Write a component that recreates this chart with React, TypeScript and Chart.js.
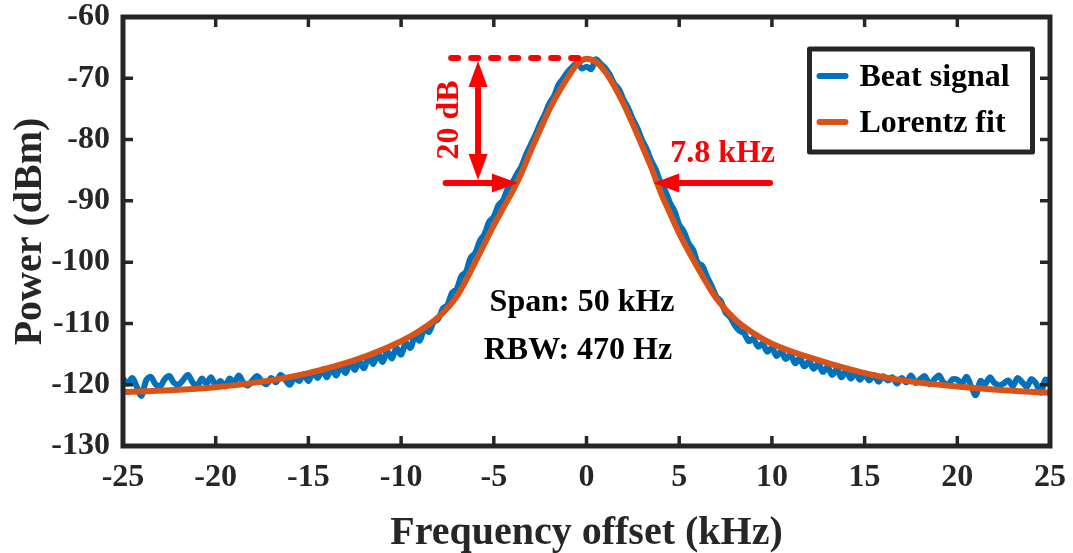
import React, { useEffect, useRef } from "react";
import { Chart, registerables } from "chart.js";

Chart.register(...registerables);

// ---------- data ----------
const FREQ_START = -25; // kHz, first sample of the beat-signal trace
const FREQ_STEP = 0.25; // kHz, sample spacing of the beat-signal trace

const BEAT_SIGNAL = [
  -119.0, -119.8, -118.9, -120.4, -121.8, -119.3, -118.7, -119.9, -120.3, -119.1, // -25.00
  -118.6, -119.7, -120.0, -119.2, -118.4, -119.6, -120.2, -119.0, -119.8, -118.8, // -22.50
  -120.1, -119.4, -120.3, -119.0, -119.6, -118.5, -119.7, -120.1, -119.2, -118.6, // -20.00
  -119.5, -119.9, -118.9, -119.6, -118.4, -119.2, -120.0, -118.8, -119.4, -118.3, // -17.50
  -119.4, -117.9, -118.9, -117.5, -118.8, -117.2, -118.5, -116.8, -118.1, -116.4, // -15.00
  -117.6, -116.2, -117.3, -115.4, -116.6, -114.9, -116.3, -114.6, -115.7, -114.0, // -12.50
  -115.1, -113.2, -114.0, -112.1, -112.8, -110.9, -111.4, -109.8, -109.3, -107.6, // -10.00
  -107.0, -105.0, -104.4, -102.3, -101.6, -99.3, -98.5, -96.5, -95.4, -93.4, //  -7.50
  -92.6, -90.7, -89.9, -88.0, -87.0, -85.6, -84.3, -82.4, -80.8, -79.2, //  -5.00
  -77.4, -75.9, -74.1, -72.9, -71.0, -70.0, -68.9, -68.1, -67.5, -68.4, //  -2.50
  -68.1, -68.5, -66.9, -67.6, -68.3, -69.4, -70.9, -71.8, -73.5, -74.9, //   0.00
  -76.7, -78.2, -80.1, -81.6, -83.5, -85.0, -87.1, -88.4, -90.3, -91.7, //   2.50
  -93.9, -95.0, -96.9, -98.0, -100.1, -100.6, -102.4, -103.9, -105.6, -106.4, //   5.00
  -108.2, -109.0, -110.3, -111.2, -111.6, -112.9, -112.5, -113.8, -113.3, -114.6, //   7.50
  -114.0, -115.3, -114.6, -115.8, -115.1, -116.5, -115.7, -117.0, -116.2, -117.4, //  10.00
  -116.6, -117.9, -117.1, -118.4, -117.5, -118.8, -117.7, -119.0, -118.0, -119.2, //  12.50
  -118.2, -119.3, -118.4, -119.5, -118.6, -119.3, -118.8, -119.8, -118.9, -119.6, //  15.00
  -118.5, -119.7, -119.1, -118.6, -119.9, -119.2, -118.5, -119.6, -120.0, -119.1, //  17.50
  -119.2, -119.8, -118.7, -120.3, -121.7, -119.4, -119.9, -118.8, -119.7, -120.1, //  20.00
  -119.8, -119.3, -120.2, -118.9, -119.6, -120.3, -119.1, -119.8, -121.3, -119.2, //  22.50
  -119.6, //  25.00
];

const FIT_FREQ = [
  -25, -22.5, -20, -17.5, -15, -12.5, -10, -9, -8, -7, -6, -5, -4.5, -4, -3.5, -3,
  -2.5, -2, -1.5, -1, -0.5, 0, 0.5, 1, 1.5, 2, 2.5, 3, 3.5, 4, 4.5, 5, 6, 7, 8, 9,
  10, 12.5, 15, 17.5, 20, 22.5, 25,
];
const FIT_POWER = [
  -121.2, -120.9, -120.4, -119.5, -118.1, -116.0, -112.9, -111.2, -109.0, -105.6,
  -100.0, -94.0, -91.2, -88.5, -85.4, -81.8, -78.4, -75.1, -72.3, -69.8, -67.7,
  -66.8, -67.3, -68.9, -71.3, -74.2, -77.5, -81.0, -84.6, -88.6, -92.0, -95.3,
  -100.9, -105.9, -109.3, -111.6, -113.3, -116.0, -118.1, -119.5, -120.3, -120.9,
  -121.3,
];

const SERIES_LABELS = ["Beat signal", "Lorentz fit"];
const SERIES_COLORS = ["#0072BD", "#D95319"];

const X_TICKS = [-25, -20, -15, -10, -5, 0, 5, 10, 15, 20, 25];
const Y_TICKS = [-130, -120, -110, -100, -90, -80, -70, -60];

const X_TITLE = "Frequency offset (kHz)";
const Y_TITLE = "Power (dBm)";

// annotation values (data units)
const PEAK_LEVEL = -66.7;
const DROP_LEVEL = -87.1;
const PEAK_LINE_FROM = -7.3;
const PEAK_LINE_TO = -0.25;
const DROP_ARROW_X = -5.85;
const LEFT_ARROW = [-7.6, -3.7];
const RIGHT_ARROW = [9.9, 3.6];
const DROP_LABEL = { text: "20 dB", x: -7.36, y: -76.8 };
const WIDTH_LABEL = { text: "7.8 kHz", x: 7.34, y: -82.3 };
const INFO_LINES = [
  { text: "Span: 50 kHz", x: -0.24, y: -106.6 },
  { text: "RBW: 470 Hz", x: -0.46, y: -114.4 },
];

const FONT = "'Liberation Serif', 'Times New Roman', serif";
const AXIS_COLOR = "#262626";
const RED = "#FF0000";

function drawArrow(
  ctx: CanvasRenderingContext2D,
  x1: number,
  y1: number,
  x2: number,
  y2: number,
  doubleHead: boolean
) {
  const headLen = 26;
  const headHalf = 9.5;
  const ang = Math.atan2(y2 - y1, x2 - x1);
  const c = Math.cos(ang);
  const s = Math.sin(ang);
  const bx2 = x2 - headLen * c;
  const by2 = y2 - headLen * s;
  const bx1 = doubleHead ? x1 + headLen * c : x1;
  const by1 = doubleHead ? y1 + headLen * s : y1;
  ctx.beginPath();
  ctx.moveTo(bx1, by1);
  ctx.lineTo(bx2 + 2 * c, by2 + 2 * s);
  ctx.lineWidth = 6;
  ctx.lineCap = doubleHead ? "butt" : "round";
  ctx.stroke();
  const head = (tx: number, ty: number, bx: number, by: number) => {
    ctx.beginPath();
    ctx.moveTo(tx, ty);
    ctx.lineTo(bx - headHalf * s, by + headHalf * c);
    ctx.lineTo(bx + headHalf * s, by - headHalf * c);
    ctx.closePath();
    ctx.fill();
  };
  head(x2, y2, bx2, by2);
  if (doubleHead) head(x1, y1, bx1, by1);
}

const overlayPlugin = {
  id: "overlay",
  afterDatasetsDraw(chart: any) {
    const ctx: CanvasRenderingContext2D = chart.ctx;
    const { left, right, top, bottom } = chart.chartArea;
    const xs = chart.scales.x;
    const ys = chart.scales.y;
    const px = (v: number) => xs.getPixelForValue(v);
    const py = (v: number) => ys.getPixelForValue(v);

    ctx.save();
    // ---- annotations ----
    ctx.strokeStyle = RED;
    ctx.fillStyle = RED;
    // dotted peak line
    ctx.beginPath();
    ctx.setLineDash([7, 13]);
    ctx.lineWidth = 6;
    ctx.lineCap = "round";
    ctx.moveTo(px(PEAK_LINE_FROM), py(PEAK_LEVEL));
    ctx.lineTo(px(PEAK_LINE_TO), py(PEAK_LEVEL));
    ctx.stroke();
    ctx.setLineDash([]);
    // vertical double arrow
    drawArrow(ctx, px(DROP_ARROW_X), py(PEAK_LEVEL) + 3, px(DROP_ARROW_X), py(DROP_LEVEL) - 3, true);
    // horizontal arrows
    drawArrow(ctx, px(LEFT_ARROW[0]), py(DROP_LEVEL), px(LEFT_ARROW[1]), py(DROP_LEVEL), false);
    drawArrow(ctx, px(RIGHT_ARROW[0]), py(DROP_LEVEL), px(RIGHT_ARROW[1]), py(DROP_LEVEL), false);

    ctx.font = `bold 32px ${FONT}`;
    ctx.textAlign = "center";
    ctx.textBaseline = "middle";
    ctx.save();
    ctx.translate(px(DROP_LABEL.x), py(DROP_LABEL.y));
    ctx.rotate(-Math.PI / 2);
    ctx.fillText(DROP_LABEL.text, 0, 0);
    ctx.restore();
    ctx.fillText(WIDTH_LABEL.text, px(WIDTH_LABEL.x), py(WIDTH_LABEL.y));

    ctx.fillStyle = "#000000";
    for (const t of INFO_LINES) ctx.fillText(t.text, px(t.x), py(t.y));

    // ---- axes box and inner ticks ----
    ctx.strokeStyle = AXIS_COLOR;
    ctx.lineCap = "butt";
    ctx.lineWidth = 3.5;
    const tl = 10;
    ctx.beginPath();
    for (const v of X_TICKS) {
      const x = px(v);
      ctx.moveTo(x, bottom);
      ctx.lineTo(x, bottom - tl);
      ctx.moveTo(x, top);
      ctx.lineTo(x, top + tl);
    }
    for (const v of Y_TICKS) {
      const y = py(v);
      ctx.moveTo(left, y);
      ctx.lineTo(left + tl, y);
      ctx.moveTo(right, y);
      ctx.lineTo(right - tl, y);
    }
    ctx.stroke();
    ctx.lineWidth = 5;
    ctx.lineJoin = "miter";
    ctx.strokeRect(left, top, right - left, bottom - top);

    // ---- legend ----
    const lx0 = right - 240.5;
    const lx1 = right - 17.5;
    const ly0 = top + 32;
    const ly1 = top + 135;
    ctx.fillStyle = "#ffffff";
    ctx.fillRect(lx0, ly0, lx1 - lx0, ly1 - ly0);
    ctx.lineWidth = 5;
    ctx.lineJoin = "round";
    ctx.strokeRect(lx0, ly0, lx1 - lx0, ly1 - ly0);
    const rows = [ly0 + 27, ly0 + 73];
    ctx.font = `bold 32px ${FONT}`;
    ctx.textAlign = "left";
    ctx.textBaseline = "middle";
    SERIES_LABELS.forEach((label, i) => {
      ctx.strokeStyle = SERIES_COLORS[i];
      ctx.lineWidth = 6;
      ctx.lineCap = "round";
      ctx.beginPath();
      ctx.moveTo(lx0 + 10, rows[i]);
      ctx.lineTo(lx0 + 36, rows[i]);
      ctx.stroke();
      ctx.fillStyle = "#000000";
      ctx.fillText(label, lx0 + 50, rows[i] + 2);
    });
    ctx.restore();
  },
};

export default function App() {
  const canvasRef = useRef<HTMLCanvasElement | null>(null);

  useEffect(() => {
    const canvas = canvasRef.current;
    if (!canvas) return;
    const beatPoints = BEAT_SIGNAL.map((y, i) => ({ x: FREQ_START + i * FREQ_STEP, y }));
    const fitPoints = FIT_FREQ.map((x, i) => ({ x, y: FIT_POWER[i] }));

    const chart = new Chart(canvas, {
      type: "line",
      data: {
        datasets: [
          {
            label: SERIES_LABELS[0],
            data: beatPoints,
            borderColor: SERIES_COLORS[0],
            backgroundColor: SERIES_COLORS[0],
            borderWidth: 6,
            pointRadius: 0,
            tension: 0.35,
            borderJoinStyle: "round",
            borderCapStyle: "round",
            order: 2,
          },
          {
            label: SERIES_LABELS[1],
            data: fitPoints,
            borderColor: SERIES_COLORS[1],
            backgroundColor: SERIES_COLORS[1],
            borderWidth: 6,
            pointRadius: 0,
            cubicInterpolationMode: "monotone",
            borderJoinStyle: "round",
            order: 1,
          },
        ],
      },
      options: {
        responsive: false,
        animation: false,
        events: [],
        layout: { padding: { top: 17, right: 23, left: 0, bottom: 0 } },
        plugins: {
          legend: { display: false },
          tooltip: { enabled: false },
        },
        scales: {
          x: {
            type: "linear",
            min: -25,
            max: 25,
            afterBuildTicks: (s: any) => {
              s.ticks = X_TICKS.map((v) => ({ value: v }));
            },
            afterFit: (s: any) => {
              s.height = 107;
              s.paddingLeft = 0;
              s.paddingRight = 0;
            },
            grid: { display: false, drawTicks: false },
            border: { display: false },
            ticks: {
              color: AXIS_COLOR,
              padding: 13,
              maxRotation: 0,
              autoSkip: false,
              font: { family: FONT, size: 32, weight: "bold" },
            },
            title: {
              display: true,
              text: X_TITLE,
              color: AXIS_COLOR,
              padding: { top: 0, bottom: -5 },
              font: { family: FONT, size: 40, weight: "bold" },
            },
          },
          y: {
            type: "linear",
            min: -130,
            max: -60,
            afterBuildTicks: (s: any) => {
              s.ticks = Y_TICKS.map((v) => ({ value: v }));
            },
            afterFit: (s: any) => {
              s.width = 123;
              s.paddingTop = 0;
              s.paddingBottom = 0;
            },
            grid: { display: false, drawTicks: false },
            border: { display: false },
            ticks: {
              color: AXIS_COLOR,
              padding: 13,
              autoSkip: false,
              font: { family: FONT, size: 32, weight: "bold" },
            },
            title: {
              display: true,
              text: Y_TITLE,
              color: AXIS_COLOR,
              padding: { top: 7, bottom: 0 },
              font: { family: FONT, size: 40, weight: "bold" },
            },
          },
        },
      },
      plugins: [overlayPlugin],
    } as any);

    return () => chart.destroy();
  }, []);

  return (
    <div style={{ position: "absolute", left: 0, top: 0, width: 1073, height: 553, background: "#ffffff" }}>
      <canvas ref={canvasRef} width={1073} height={553} style={{ display: "block" }} />
    </div>
  );
}
